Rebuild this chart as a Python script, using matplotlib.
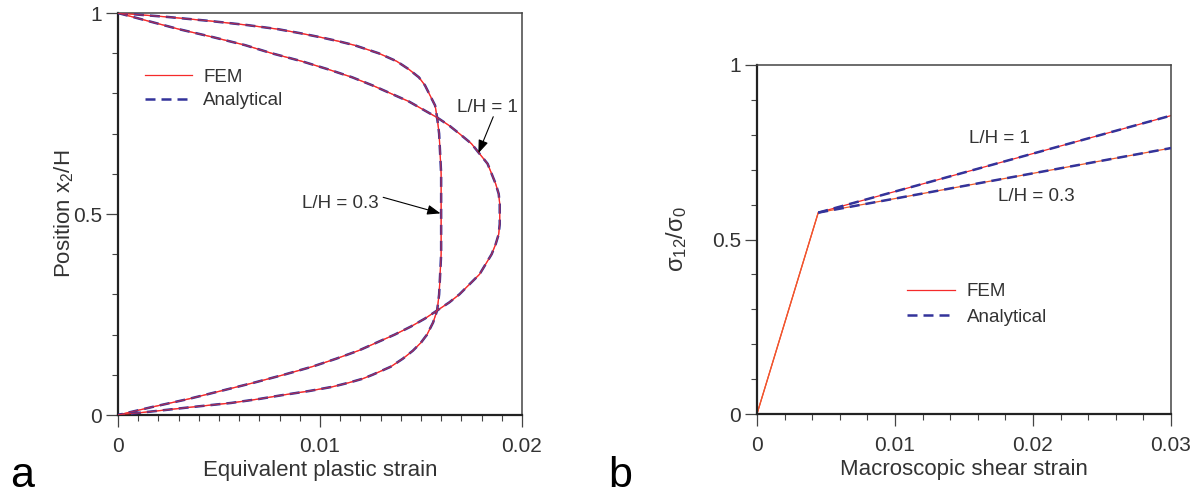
import numpy as np
import matplotlib
matplotlib.use('Agg')
import matplotlib.pyplot as plt
from matplotlib.ticker import MultipleLocator, FixedLocator, FixedFormatter

# ─── DATA ──────────────────────────────────────────────────────────────────────
# (a) equivalent plastic strain profiles through the thickness
pos_lh1 = [1.0, 0.98, 0.96, 0.94, 0.92, 0.90, 0.88, 0.86, 0.84, 0.82, 0.80, 0.78,
           0.76, 0.74, 0.72, 0.70, 0.675, 0.65, 0.625, 0.60, 0.575, 0.55, 0.525, 0.50,
           0.475, 0.45, 0.425, 0.40, 0.375, 0.35, 0.325, 0.30, 0.28, 0.26, 0.24, 0.22,
           0.20, 0.18, 0.16, 0.14, 0.12, 0.10, 0.08, 0.06, 0.04, 0.02, 0.0]
eps_lh1 = [0.0, 0.0015, 0.0030, 0.0047, 0.0063, 0.0076, 0.0091, 0.0104, 0.0116,
           0.0126, 0.0135, 0.0144, 0.0151, 0.0158, 0.0164, 0.0169, 0.0175, 0.0179,
           0.0183, 0.0185, 0.0187, 0.01885, 0.0189, 0.0189, 0.0189, 0.01885, 0.0187,
           0.0185, 0.0182, 0.0179, 0.0174, 0.0169, 0.0164, 0.0158, 0.0152, 0.0145,
           0.0137, 0.0128, 0.0119, 0.0108, 0.0096, 0.0082, 0.0067, 0.0051, 0.0035,
           0.0017, 0.0]

pos_lh03 = [1.0, 0.99, 0.98, 0.97, 0.96, 0.95, 0.94, 0.93, 0.92, 0.91, 0.90, 0.88,
            0.86, 0.84, 0.82, 0.80, 0.77, 0.74, 0.70, 0.65, 0.60, 0.55, 0.50, 0.45,
            0.40, 0.35, 0.30, 0.26, 0.23, 0.20, 0.18, 0.16, 0.14, 0.12, 0.10, 0.09,
            0.08, 0.07, 0.06, 0.05, 0.04, 0.03, 0.02, 0.01, 0.0]
eps_lh03 = [0.0, 0.0025, 0.0046, 0.0064, 0.0079, 0.0090, 0.0100, 0.0109, 0.0117,
            0.0123, 0.0129, 0.0138, 0.0144, 0.0149, 0.0152, 0.0154, 0.0157, 0.0158,
            0.0159, 0.01595, 0.0160, 0.0160, 0.0160, 0.0160, 0.0160, 0.01595, 0.0159,
            0.0158, 0.0156, 0.0153, 0.0150, 0.0146, 0.0141, 0.0135, 0.0126, 0.0121,
            0.0114, 0.0106, 0.0095, 0.0082, 0.0070, 0.0056, 0.0037, 0.0019, 0.0]

# (b) macroscopic stress-strain response
gamma_fem = [0.0, 0.00444, 0.03]
tau_fem_lh1 = [0.0, 0.577, 0.855]
tau_fem_lh03 = [0.0, 0.577, 0.762]
gamma_an = [0.00444, 0.03]
tau_an_lh1 = [0.577, 0.855]
tau_an_lh03 = [0.577, 0.762]

# ─── STYLE ─────────────────────────────────────────────────────────────────────
plt.rcParams['font.family'] = ['Liberation Sans', 'DejaVu Sans']
plt.rcParams['mathtext.fontset'] = 'custom'
plt.rcParams['mathtext.rm'] = 'Liberation Sans'
plt.rcParams['mathtext.it'] = 'Liberation Sans'
plt.rcParams['mathtext.default'] = 'regular'

RED = '#f52a2a'
ORANGE = '#f05a2a'
BLUE = '#33339a'
TXT = '#333333'
AN_KW = dict(color=BLUE, lw=1.8, dashes=(4, 2.4))
FEM_LW = 0.9


def style_axes(ax):
    for s in ['left', 'bottom']:
        ax.spines[s].set_linewidth(1.6)
        ax.spines[s].set_color('#222222')
    for s in ['top', 'right']:
        ax.spines[s].set_linewidth(1.1)
        ax.spines[s].set_color('#444444')
    ax.tick_params(which='major', direction='out', length=8.5, width=0.9,
                   color='#444444', labelsize=15, labelcolor=TXT, pad=3)
    ax.tick_params(which='minor', direction='out', length=4, width=0.8, color='#444444')
    ax.tick_params(axis='x', which='major', pad=7)


fig = plt.figure(figsize=(12.04, 4.95), dpi=100)
ax1 = fig.add_axes([0.098, 0.1616, 0.3355, 0.8121])
ax2 = fig.add_axes([0.6287, 0.1636, 0.3439, 0.7051])

# ─── (a) ───
ax1.plot(eps_lh1, pos_lh1, color=RED, lw=FEM_LW, label='FEM', zorder=2)
ax1.plot(eps_lh1, pos_lh1, label='Analytical', zorder=3, **AN_KW)
ax1.plot(eps_lh03, pos_lh03, color=RED, lw=FEM_LW, zorder=2)
ax1.plot(eps_lh03, pos_lh03, zorder=3, **AN_KW)
ax1.plot(eps_lh1, pos_lh1, color=RED, lw=FEM_LW, alpha=0.6, zorder=4)
ax1.plot(eps_lh03, pos_lh03, color=RED, lw=FEM_LW, alpha=0.6, zorder=4)

ax1.set_xlim(0, 0.02)
ax1.set_ylim(0, 1)
ax1.xaxis.set_major_locator(FixedLocator([0, 0.01, 0.02]))
ax1.xaxis.set_major_formatter(FixedFormatter(['0', '0.01', '0.02']))
ax1.xaxis.set_minor_locator(MultipleLocator(0.001))
ax1.yaxis.set_major_locator(FixedLocator([0, 0.5, 1]))
ax1.yaxis.set_major_formatter(FixedFormatter(['0', '0.5', '1']))
ax1.yaxis.set_minor_locator(MultipleLocator(0.1))
style_axes(ax1)
ax1.set_xlabel('Equivalent plastic strain', fontsize=16, color=TXT)
ax1.set_ylabel('Position x$_2$/H', fontsize=16, color=TXT)
ax1.xaxis.set_label_coords(0.5, -0.112)
ax1.yaxis.set_label_coords(-0.105, 0.5)

ARROW = dict(arrowstyle='-|>,head_length=0.8,head_width=0.3',
             color='black', lw=0.8, shrinkA=0, shrinkB=0)
ax1.text(0.0168, 0.766, 'L/H = 1', fontsize=13.5, color=TXT, va='center')
ax1.annotate('', xy=(0.01784, 0.651), xytext=(0.01858, 0.742), arrowprops=ARROW)
ax1.text(0.0091, 0.525, 'L/H = 0.3', fontsize=13.5, color=TXT, va='center')
ax1.annotate('', xy=(0.01597, 0.5016), xytext=(0.01313, 0.5415), arrowprops=ARROW)

leg1 = ax1.legend(loc='upper left', bbox_to_anchor=(0.067, 0.862), frameon=False,
                  fontsize=13.5, handlelength=2.5, handletextpad=0.6, labelspacing=0.35,
                  borderpad=0, borderaxespad=0)
for t in leg1.get_texts():
    t.set_color(TXT)

# ─── (b) ───
ax2.plot(gamma_fem, tau_fem_lh1, color=RED, lw=FEM_LW, label='FEM', zorder=2)
ax2.plot(gamma_an, tau_an_lh1, label='Analytical', zorder=3, **AN_KW)
ax2.plot(gamma_fem, tau_fem_lh03, color=ORANGE, lw=FEM_LW, zorder=2)
ax2.plot(gamma_an, tau_an_lh03, zorder=3, **AN_KW)

ax2.set_xlim(0, 0.03)
ax2.set_ylim(0, 1)
ax2.xaxis.set_major_locator(FixedLocator([0, 0.01, 0.02, 0.03]))
ax2.xaxis.set_major_formatter(FixedFormatter(['0', '0.01', '0.02', '0.03']))
ax2.xaxis.set_minor_locator(MultipleLocator(0.002))
ax2.yaxis.set_major_locator(FixedLocator([0, 0.5, 1]))
ax2.yaxis.set_major_formatter(FixedFormatter(['0', '0.5', '1']))
ax2.yaxis.set_minor_locator(MultipleLocator(0.1))
style_axes(ax2)
ax2.set_xlabel('Macroscopic shear strain', fontsize=16, color=TXT)
ax2.set_ylabel(r'$\sigma_{12}/\sigma_0$', fontsize=17, color=TXT)
ax2.xaxis.set_label_coords(0.5, -0.128)
ax2.yaxis.set_label_coords(-0.165, 0.5)

ax2.text(0.01538, 0.788, 'L/H = 1', fontsize=13.5, color=TXT, va='center')
ax2.text(0.01749, 0.6226, 'L/H = 0.3', fontsize=13.5, color=TXT, va='center')

leg2 = ax2.legend(loc='upper left', bbox_to_anchor=(0.3616, 0.375), frameon=False,
                  fontsize=13.5, handlelength=2.6, handletextpad=0.6, labelspacing=0.45,
                  borderpad=0, borderaxespad=0)
for t in leg2.get_texts():
    t.set_color(TXT)

# panel letters
fig.text(0.008, 0.016, 'a', fontsize=31, color='black')
fig.text(0.505, 0.016, 'b', fontsize=31, color='black')

plt.savefig('out.png', dpi=100)
